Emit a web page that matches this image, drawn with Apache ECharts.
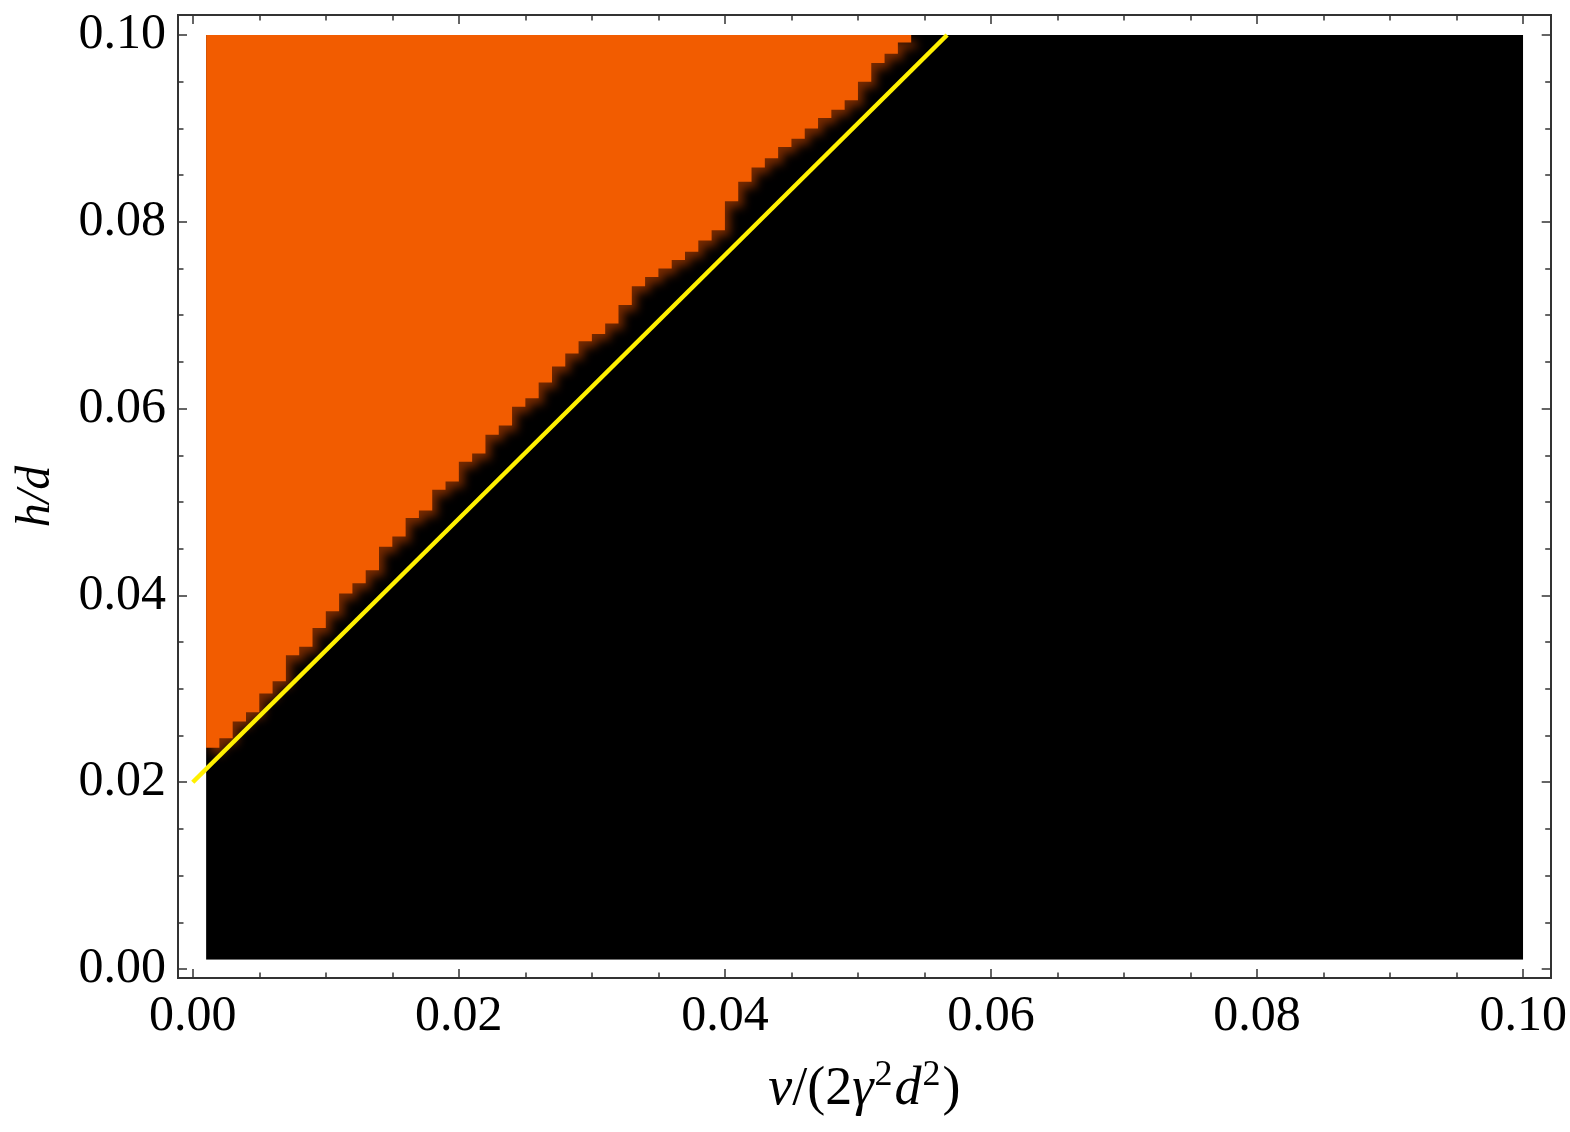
<!DOCTYPE html>
<html><head><meta charset="utf-8">
<script src="https://cdn.jsdelivr.net/npm/echarts@6/dist/echarts.min.js"></script>
<style>html,body{margin:0;padding:0;background:#fff}#c{width:1570px;height:1132px}</style>
</head><body><div id="c"></div>
<script>
// Axis ticks
const xMajorTicks = [0, 0.02, 0.04, 0.06, 0.08, 0.10];
const xMinorTicks = [0.005,0.01,0.015,0.025,0.03,0.035,0.045,0.05,0.055,0.065,0.07,0.075,0.085,0.09,0.095];
const yMajorTicks = [0, 0.02, 0.04, 0.06, 0.08, 0.10];
const yMinorTicks = [0.005,0.01,0.015,0.025,0.03,0.035,0.045,0.05,0.055,0.065,0.07,0.075,0.085,0.09,0.095];
// Sampled region extent
const regionV = [0.001, 0.1];
const regionH = [0.001, 0.1];
// Region boundary: column left edges (v) and boundary heights (h) per column
const boundaryV = [0.001,0.002,0.003,0.004,0.005,0.006,0.007,0.008,0.009,0.010,
  0.011,0.012,0.013,0.014,0.015,0.016,0.017,0.018,0.019,0.020,
  0.021,0.022,0.023,0.024,0.025,0.026,0.027,0.028,0.029,0.030,
  0.031,0.032,0.033,0.034,0.035,0.036,0.037,0.038,0.039,0.040,
  0.041,0.042,0.043,0.044,0.045,0.046,0.047,0.048,0.049,0.050,
  0.051,0.052,0.053,0.054];
const boundaryH = [0.0237,0.0247,0.0265,0.0275,0.0295,0.0308,0.0336,0.0345,0.0365,0.0383,
  0.0402,0.0413,0.0427,0.0452,0.0463,0.0483,0.0491,0.0513,0.0522,0.0543,
  0.0552,0.0572,0.0582,0.0602,0.0611,0.0628,0.0645,0.0659,0.0672,0.0680,
  0.0691,0.0711,0.0731,0.0741,0.0750,0.0759,0.0768,0.0780,0.0791,0.0822,
  0.0843,0.0858,0.0868,0.0880,0.0889,0.0900,0.0911,0.0920,0.0930,0.0950,
  0.0970,0.0980,0.0992];
// Analytic boundary line (yellow)
const lineV = [0, 0.0567];
const lineH = [0.02, 0.1];

const xMin = -0.00111, xMax = 0.10207, yMin = -0.00096, yMax = 0.10214;
const FONT = '"Liberation Serif", "Times New Roman", serif';
const frameStyle = {color: '#333', width: 2};
const fmt = v => v.toFixed(2);

function xAxisDef(pos, ticks, len, labels, extra) {
  return Object.assign({
    type: 'value', position: pos, min: xMin, max: xMax,
    axisLine: {show: true, onZero: false, lineStyle: frameStyle},
    axisTick: {show: true, inside: true, length: len, customValues: ticks, lineStyle: {color: '#333', width: 1.5}},
    axisLabel: labels ? {show: true, customValues: ticks, formatter: fmt, fontFamily: FONT, fontSize: 50, color: '#000', margin: 14} : {show: false},
    splitLine: {show: false}
  }, extra || {});
}
function yAxisDef(pos, ticks, len, labels, extra) {
  return Object.assign({
    type: 'value', position: pos, min: yMin, max: yMax,
    axisLine: {show: true, onZero: false, lineStyle: frameStyle},
    axisTick: {show: true, inside: true, length: len, customValues: ticks, lineStyle: {color: '#333', width: 1.5}},
    axisLabel: labels ? {show: true, customValues: ticks, formatter: fmt, fontFamily: FONT, fontSize: 50, color: '#000', margin: 12} : {show: false},
    splitLine: {show: false}
  }, extra || {});
}

const chart = echarts.init(document.getElementById('c'), null, {renderer: 'canvas'});
chart.setOption({
  animation: false,
  backgroundColor: '#fff',
  grid: {left: 178, top: 15, right: 19.3, bottom: 154, containLabel: false},
  xAxis: [
    xAxisDef('bottom', xMajorTicks, 9, true, {
      name: '{i|v}{n|/(2}{i|γ}{s|2}{i|d}{s|2}{n|)}', nameLocation: 'middle', nameGap: 80,
      nameTextStyle: {fontFamily: FONT, fontSize: 54, color: '#000',
        rich: {
          n: {fontFamily: FONT, fontSize: 54, color: '#000', lineHeight: 64},
          i: {fontFamily: FONT, fontSize: 54, fontStyle: 'italic', color: '#000', lineHeight: 64},
          s: {fontFamily: FONT, fontSize: 36, color: '#000', verticalAlign: 'top', lineHeight: 64, padding: [0, 2, 22, 1]}
        }}
    }),
    xAxisDef('bottom', xMinorTicks, 5.5, false),
    xAxisDef('top', xMajorTicks, 9, false),
    xAxisDef('top', xMinorTicks, 5.5, false)
  ],
  yAxis: [
    yAxisDef('left', yMajorTicks, 9, true, {
      name: 'h/d', nameLocation: 'middle', nameGap: 118,
      nameTextStyle: {fontFamily: FONT, fontSize: 48, fontStyle: 'italic', color: '#000'}
    }),
    yAxisDef('left', yMinorTicks, 5.5, false),
    yAxisDef('right', yMajorTicks, 9, false),
    yAxisDef('right', yMinorTicks, 5.5, false)
  ],
  series: [
    {
      type: 'custom', xAxisIndex: 0, yAxisIndex: 0, clip: true,
      data: [[regionV[0], regionH[0]]],
      renderItem: function (params, api) {
        const tl = api.coord([regionV[0], regionH[1]]);
        const br = api.coord([regionV[1], regionH[0]]);
        const rectShape = {x: tl[0], y: tl[1], width: br[0] - tl[0], height: br[1] - tl[1]};
        const pts = [api.coord([boundaryV[0], regionH[1]])];
        for (let k = 0; k < boundaryH.length; k++) {
          pts.push(api.coord([boundaryV[k], boundaryH[k]]));
          pts.push(api.coord([boundaryV[k + 1], boundaryH[k]]));
        }
        pts.push(api.coord([boundaryV[boundaryV.length - 1], regionH[1]]));
        return {
          type: 'group',
          clipPath: {type: 'rect', shape: rectShape},
          children: [
            {type: 'rect', shape: rectShape, style: {fill: '#000'}},
            {type: 'polygon', shape: {points: pts},
              style: {fill: '#F25C00', shadowBlur: 10, shadowColor: 'rgba(170,60,0,0.7)', shadowOffsetX: 5, shadowOffsetY: 6}}
          ]
        };
      },
      z: 1
    },
    {
      type: 'line', xAxisIndex: 0, yAxisIndex: 0,
      data: lineV.map((v, i) => [v, lineH[i]]),
      symbol: 'none', clip: false,
      lineStyle: {color: '#FFF000', width: 4.5},
      z: 3
    }
  ]
});
</script>
</body></html>
